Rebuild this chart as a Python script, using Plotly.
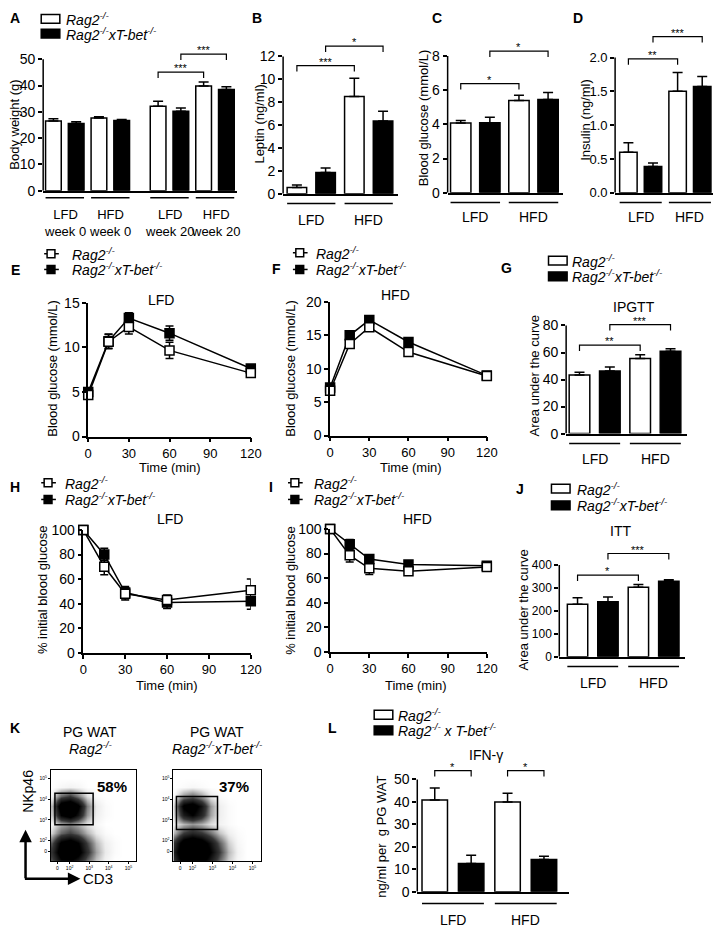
import plotly.graph_objects as go

W, H = 726, 937
FONT = "Liberation Sans, Arial, sans-serif"
LW = 1.5

RAG = "<i>Rag2<sup>-/-</sup></i>"
TBET = "<i>Rag2<sup>-/-</sup>xT-bet<sup>-/-</sup></i>"
TBET_L = "<i>Rag2<sup>-/-</sup> x T-bet<sup>-/-</sup></i>"

# ---------------- data ----------------
# A: body weight (g)
a_labels = ["LFD<br>week 0", "HFD<br>week 0", "LFD<br>week 20", "HFD<br>week 20"]
a_rag2 = [26.5, 27.7, 32.1, 39.8]
a_rag2_err = [0.9, 0.4, 1.9, 1.5]
a_tbet = [25.6, 26.7, 30.2, 38.5]
a_tbet_err = [0.6, 0.4, 1.3, 1.0]
a_sig = [(4, 6, 45.1, "***"), (5, 7, 51.9, "***")]

# B: leptin (ng/ml)
diet_labels = ["LFD", "HFD"]
b_rag2 = [0.55, 8.5]
b_rag2_err = [0.22, 1.6]
b_tbet = [1.85, 6.35]
b_tbet_err = [0.4, 0.85]
b_sig = [(0, 2, 11.2, "***"), (1, 3, 12.9, "*")]

# C: fasting blood glucose (mmol/L)
c_rag2 = [4.08, 5.4]
c_rag2_err = [0.15, 0.3]
c_tbet = [4.1, 5.46]
c_tbet_err = [0.32, 0.4]
c_sig = [(0, 2, 6.38, "*"), (1, 3, 8.28, "*")]

# D: insulin (ng/ml)
d_rag2 = [0.6, 1.5]
d_rag2_err = [0.14, 0.28]
d_tbet = [0.39, 1.57]
d_tbet_err = [0.05, 0.15]
d_sig = [(0, 2, 1.98, "**"), (1, 3, 2.31, "***")]

# E/F: IPGTT time courses (mmol/L)
time_min = [0, 15, 30, 60, 120]
e_rag2 = [4.65, 10.65, 12.3, 9.67, 7.12]
e_rag2_err = [0.3, 0.8, 0.8, 0.9, 0.4]
e_tbet = [5.0, 10.7, 13.3, 11.6, 7.63]
e_tbet_err = [0.3, 0.8, 0.6, 0.8, 0.4]
f_rag2 = [6.7, 13.7, 16.2, 12.5, 8.9]
f_rag2_err = [0.5, 0.6, 0.5, 0.5, 0.4]
f_tbet = [7.2, 15.0, 17.3, 14.0, 9.0]
f_tbet_err = [0.4, 0.5, 0.5, 0.5, 0.4]

# G: IPGTT area under the curve
g_rag2 = [43.4, 55.5]
g_rag2_err = [2.0, 2.8]
g_tbet = [46.3, 61.0]
g_tbet_err = [3.0, 1.8]
g_sig = [(0, 2, 65.5, "**"), (1, 3, 80.7, "***")]

# H/I: ITT time courses (% initial)
h_rag2 = [100, 70, 48, 43, 51]
h_rag2_err = [0, 6.5, 5, 4, 9]
h_tbet = [100, 80, 49, 41, 42]
h_tbet_err = [0, 5, 5, 5, 6.5]
i_rag2 = [100, 78.5, 68, 65.5, 69]
i_rag2_err = [0, 5.5, 5, 3, 3]
i_tbet = [100, 87.5, 75.5, 71, 70]
i_tbet_err = [0, 4, 3, 3, 3]

# J: ITT area under the curve
j_rag2 = [229, 303]
j_rag2_err = [28, 12]
j_tbet = [240, 329]
j_tbet_err = [20, 7]
j_sig = [(0, 2, 356, "*"), (1, 3, 450, "***")]

# K: flow cytometry density (rows = NKp46 bins bottom->top, cols = CD3 bins)
flow_x = [1.1, 1.55, 2.0, 2.45, 2.9, 3.35, 3.8, 4.25, 4.7, 5.15]
flow_y = [1.0, 1.45, 1.9, 2.35, 2.8, 3.25, 3.7, 4.15, 4.6, 5.05]
flow_tick_text = ["0", "10<sup>2</sup>", "10<sup>3</sup>", "10<sup>4</sup>", "10<sup>5</sup>"]
k_rag2 = [
    [0.35, 0.65, 0.7, 0.55, 0.3, 0.12, 0.03, 0, 0, 0],
    [0.45, 0.85, 0.95, 0.8, 0.45, 0.18, 0.05, 0.01, 0, 0],
    [0.35, 0.75, 0.85, 0.7, 0.38, 0.14, 0.04, 0.01, 0, 0],
    [0.1, 0.3, 0.38, 0.3, 0.15, 0.05, 0.01, 0, 0, 0],
    [0.03, 0.15, 0.22, 0.15, 0.06, 0.02, 0, 0, 0, 0],
    [0.12, 0.7, 0.85, 0.6, 0.2, 0.04, 0.01, 0, 0, 0],
    [0.15, 0.9, 1.0, 0.75, 0.25, 0.05, 0.01, 0, 0, 0],
    [0.03, 0.3, 0.4, 0.25, 0.07, 0.01, 0, 0, 0, 0],
    [0, 0.02, 0.03, 0.02, 0, 0, 0, 0, 0, 0],
    [0, 0, 0, 0, 0, 0, 0, 0, 0, 0],
]
k_tbet = [
    [0.45, 0.8, 0.9, 0.8, 0.55, 0.3, 0.1, 0.02, 0, 0],
    [0.55, 0.95, 1.0, 0.95, 0.7, 0.4, 0.14, 0.03, 0, 0],
    [0.45, 0.85, 0.95, 0.85, 0.6, 0.32, 0.1, 0.02, 0, 0],
    [0.15, 0.4, 0.5, 0.42, 0.28, 0.12, 0.04, 0.01, 0, 0],
    [0.04, 0.14, 0.2, 0.15, 0.07, 0.03, 0.01, 0, 0, 0],
    [0.1, 0.55, 0.7, 0.5, 0.18, 0.04, 0.01, 0, 0, 0],
    [0.12, 0.75, 0.85, 0.6, 0.2, 0.04, 0.01, 0, 0, 0],
    [0.02, 0.2, 0.28, 0.18, 0.05, 0.01, 0, 0, 0, 0],
    [0, 0.01, 0.02, 0.01, 0, 0, 0, 0, 0, 0],
    [0, 0, 0, 0, 0, 0, 0, 0, 0, 0],
]
k_pct = ["58%", "37%"]

# L: IFN-gamma (ng/ml per g PG WAT)
l_rag2 = [40.9, 39.9]
l_rag2_err = [5.3, 3.9]
l_tbet = [12.6, 14.3]
l_tbet_err = [3.6, 1.5]
l_sig = [(0, 1, 53.9, "*"), (2, 3, 53.9, "*")]


# ---------------- helpers ----------------
def px(x):
    return x / W


def py(y):
    return 1 - y / H


fig = go.Figure()
layout = {}
shapes = []
annots = []

AX = dict(showgrid=False, zeroline=False, linecolor="black", linewidth=LW,
          tickcolor="black", tickwidth=LW, ticklen=4, ticks="outside",
          tickfont=dict(size=14, color="black", family=FONT))


def text(x, y, s, size=14, xa="center", ya="middle", angle=0):
    annots.append(dict(x=px(x), y=py(y), xref="paper", yref="paper", text=s,
                       showarrow=False, xanchor=xa, yanchor=ya, textangle=angle,
                       font=dict(size=size, color="black", family=FONT)))


def add_axes(n, xpix, ypix, xr, yr, xkw=None, ykw=None):
    s = "" if n == 1 else str(n)
    xa = dict(AX, domain=[px(xpix[0]), px(xpix[1])], range=xr, anchor="y" + s)
    ya = dict(AX, domain=[py(ypix[1]), py(ypix[0])], range=yr, anchor="x" + s)
    xa.update(xkw or {})
    ya.update(ykw or {})
    layout["xaxis" + s] = xa
    layout["yaxis" + s] = ya
    return "x" + s, "y" + s


def bar_panel(n, xpix, ypix, xr, yr, yticks, labels, rag, rag_err, tbet, tbet_err,
              sig, line_y, label_y, width=0.69, gap_after=None, gap=0.6, tickformat=None,
              label_size=14, tick_size=14):
    ykw = dict(showline=False, tickvals=yticks,
               tickfont=dict(size=tick_size, color="black", family=FONT))
    if tickformat:
        ykw["tickformat"] = tickformat
    xn, yn = add_axes(n, xpix, ypix, xr, yr,
                      xkw=dict(showline=True, ticks="", showticklabels=False), ykw=ykw)
    pos = []
    for g in range(len(labels)):
        base = 2 * g + (gap if gap_after is not None and g >= gap_after else 0)
        pos += [base, base + 1]
    for vals, err, fill in ((rag, rag_err, "white"), (tbet, tbet_err, "black")):
        xs = pos[0::2] if fill == "white" else pos[1::2]
        fig.add_trace(go.Bar(
            x=xs, y=vals, width=width, xaxis=xn, yaxis=yn, showlegend=False,
            marker=dict(color=fill, line=dict(color="black", width=LW)),
            error_y=dict(type="data", array=err, arrayminus=[0] * len(err), symmetric=False,
                         color="black", thickness=LW, width=5)))
    # y axis line only up to the last tick (Prism style)
    shapes.append(dict(type="line", xref=xn + " domain", yref=yn, x0=0, x1=0, y0=0,
                       y1=yticks[-1], line=dict(color="black", width=LW)))
    scale = (ypix[1] - ypix[0]) / (yr[1] - yr[0])
    tip = 6 / scale
    for i, j, y, lab in sig:
        x0, x1 = pos[i], pos[j]
        shapes.append(dict(type="path", xref=xn, yref=yn,
                           path=f"M {x0},{y - tip} L {x0},{y} L {x1},{y} L {x1},{y - tip}",
                           line=dict(color="black", width=1.2)))
        annots.append(dict(x=(x0 + x1) / 2, y=y, xref=xn, yref=yn, text=lab, showarrow=False,
                           xanchor="center", yanchor="bottom", yshift=-4,
                           font=dict(size=11, color="black", family=FONT)))
    for g, lab in enumerate(labels):
        a, b = pos[2 * g] - width / 2, pos[2 * g + 1] + width / 2
        shapes.append(dict(type="line", xref=xn, yref="paper", x0=a, x1=b,
                           y0=py(line_y), y1=py(line_y), line=dict(color="black", width=LW)))
        annots.append(dict(x=(pos[2 * g] + pos[2 * g + 1]) / 2, y=py(label_y), xref=xn,
                           yref="paper", text=lab, showarrow=False, xanchor="center",
                           yanchor="middle",
                           font=dict(size=label_size, color="black", family=FONT)))


def line_panel(n, xpix, ypix, yr, yticks, rag, rag_err, tbet, tbet_err):
    xn, yn = add_axes(n, xpix, ypix, [0, 120], yr,
                      xkw=dict(showline=True, tickvals=[0, 30, 60, 90, 120],
                               tickfont=dict(size=13, color="black", family=FONT)),
                      ykw=dict(showline=True, tickvals=yticks))
    for vals, err, fill in ((tbet, tbet_err, "black"), (rag, rag_err, "white")):
        fig.add_trace(go.Scatter(
            x=time_min, y=vals, mode="lines+markers", xaxis=xn, yaxis=yn, showlegend=False,
            cliponaxis=False, line=dict(color="black", width=LW),
            marker=dict(symbol="square", size=9, color=fill, line=dict(color="black", width=LW)),
            error_y=dict(type="data", array=err, color="black", thickness=LW, width=4)))


def bar_legend(x, y1, y2, tx, second=TBET):
    for y, fill in ((y1, "white"), (y2, "black")):
        shapes.append(dict(type="rect", xref="paper", yref="paper", x0=px(x), x1=px(x + 19),
                           y0=py(y + 4.5), y1=py(y - 4.5), fillcolor=fill,
                           line=dict(color="black", width=LW)))
    text(tx, y1, RAG, xa="left")
    text(tx, y2, second, xa="left")


def line_legend(cx, y1, y2, tx):
    for y, fill in ((y1, "white"), (y2, "black")):
        shapes.append(dict(type="line", xref="paper", yref="paper", x0=px(cx - 7), x1=px(cx + 8),
                           y0=py(y), y1=py(y), line=dict(color="black", width=LW)))
        shapes.append(dict(type="rect", xref="paper", yref="paper", x0=px(cx - 4), x1=px(cx + 4),
                           y0=py(y + 4), y1=py(y - 4), fillcolor=fill,
                           line=dict(color="black", width=LW)))
    text(tx, y1, RAG, xa="left")
    text(tx, y2, TBET, xa="left")


GRAY = [[0, "rgb(255,255,255)"], [0.05, "rgb(235,235,235)"], [0.2, "rgb(150,150,150)"],
        [0.4, "rgb(55,55,55)"], [0.7, "rgb(0,0,0)"], [1, "rgb(0,0,0)"]]


def flow_panel(n, xpix, dens, gate):
    tk = dict(showline=True, mirror=True, linewidth=1, ticklen=2, tickwidth=0.8,
              tickvals=[1.38, 2, 3, 4, 5], ticktext=flow_tick_text,
              tickfont=dict(size=5, color="black", family=FONT))
    ytk = dict(tk, tickvals=[1.48, 2, 3, 4, 5])
    xn, yn = add_axes(n, xpix, (775, 868), [1.05, 5.4], [1.0, 5.43], xkw=tk, ykw=ytk)
    fig.add_trace(go.Heatmap(x=flow_x, y=flow_y, z=dens, colorscale=GRAY, zmin=0, zmax=1,
                             zsmooth="best", showscale=False, xaxis=xn, yaxis=yn,
                             hoverinfo="skip"))
    shapes.append(dict(type="rect", xref=xn, yref=yn, x0=gate[0], x1=gate[1], y0=gate[2],
                       y1=gate[3], line=dict(color="black", width=LW)))


# ---------------- panels ----------------
bar_panel(1, (40, 238), (36, 186), [-0.45, 8.07], [0, 56], [0, 10, 20, 30, 40, 50],
          a_labels, a_rag2, a_rag2_err, a_tbet, a_tbet_err, a_sig, 193, 218.5, gap_after=2,
          label_size=13)
bar_panel(2, (285, 402), (23.6, 189), [-0.48, 3.51], [0, 14.2], [0, 2, 4, 6, 8, 10, 12],
          diet_labels, b_rag2, b_rag2_err, b_tbet, b_tbet_err, b_sig, 199, 216, width=0.68)
bar_panel(3, (453, 571), (31.4, 188), [-0.45, 3.52], [0, 9], [0, 2, 4, 6, 8],
          diet_labels, c_rag2, c_rag2_err, c_tbet, c_tbet_err, c_sig, 198, 213, width=0.7)
bar_panel(4, (624, 724), (19.4, 188), [-0.54, 3.44], [0, 2.45], [0, 0.5, 1.0, 1.5, 2.0],
          diet_labels, d_rag2, d_rag2_err, d_tbet, d_tbet_err, d_sig, 198, 213, width=0.71,
          tickformat=".1f", tick_size=13)
line_panel(5, (86, 252), (300, 436), [0, 15], [0, 5, 10, 15], e_rag2, e_rag2_err, e_tbet, e_tbet_err)
line_panel(6, (333, 493), (299, 435), [0, 20], [0, 5, 10, 15, 20], f_rag2, f_rag2_err, f_tbet, f_tbet_err)
bar_panel(7, (574, 697), (312, 433), [-0.44, 3.53], [0, 88], [0, 20, 40, 60, 80],
          diet_labels, g_rag2, g_rag2_err, g_tbet, g_tbet_err, g_sig, 443, 459, width=0.68)
line_panel(8, (81, 252), (531, 656), [0, 100], [0, 20, 40, 60, 80, 100], h_rag2, h_rag2_err, h_tbet, h_tbet_err)
line_panel(9, (333, 493), (530, 655), [0, 100], [0, 20, 40, 60, 80, 100], i_rag2, i_rag2_err, i_tbet, i_tbet_err)
bar_panel(10, (567, 695), (548, 660), [-0.6, 3.52], [0, 480], [0, 100, 200, 300, 400],
          diet_labels, j_rag2, j_rag2_err, j_tbet, j_tbet_err, j_sig, 670, 687, width=0.67,
          tick_size=12)
flow_panel(11, (48, 135), k_rag2, (1.25, 3.2, 2.76, 4.29))
flow_panel(12, (173, 262), k_tbet, (1.2, 3.25, 2.53, 4.14))
bar_panel(13, (422, 577), (766.6, 899), [-0.48, 3.69], [0, 58], [0, 10, 20, 30, 40, 50],
          diet_labels, l_rag2, l_rag2_err, l_tbet, l_tbet_err, l_sig, 911, 928, width=0.7)

# legends
bar_legend(38, 11, 26, 61)
line_legend(48, 250, 266, 67)
line_legend(302, 249, 266, 317)
bar_legend(556, 257, 273, 578)
line_legend(45, 483, 500, 60)
line_legend(297, 483, 500, 315)
bar_legend(559, 489, 506, 583)
bar_legend(378, 719, 735, 400, second=TBET_L)

# panel letters
for s, x, y in [("A", 11, 10), ("B", 258, 10), ("C", 442, 10), ("D", 586, 10),
                ("E", 12, 267), ("F", 278, 266), ("G", 513, 265), ("H", 11, 487),
                ("I", 273, 487), ("J", 527, 489), ("K", 11, 732), ("L", 335, 732)]:
    text(x, y, "<b>" + s + "</b>", size=14)

# y axis titles
for s, x, y in [("Body weight (g)", 11, 119), ("Leptin (ng/ml)", 261, 118),
                ("Blood glucose (mmol/L)", 428, 112), ("Insulin (ng/ml)", 593, 114),
                ("Blood glucose (mmol/L)", 50, 366), ("Blood glucose (mmol/L)", 293, 366),
                ("Area under the curve", 542, 374), ("% initial blood glucose", 40, 592),
                ("% initial blood glucose", 293, 592), ("Area under the curve", 530, 613),
                ("ng/ml per  g PG WAT", 386, 843)]:
    text(x, y, s, size=13, angle=-90)

# x axis titles and panel titles
for x, y in [(169, 467), (416, 467), (166, 689), (421, 689)]:
    text(x, y, "Time (min)", size=13)
for s, x, y in [("LFD", 160, 297), ("HFD", 400, 292), ("IPGTT", 643, 304), ("LFD", 170, 520),
                ("HFD", 422, 520), ("ITT", 630, 532), ("IFN-γ", 492, 760)]:
    text(x, y, s, size=14)

# K annotations
text(88, 737, "PG WAT", size=14)
text(88, 753, RAG, size=14)
text(218, 737, "PG WAT", size=14)
text(218, 753, TBET, size=14)
text(110, 792, "<b>" + k_pct[0] + "</b>", size=15)
text(235, 792, "<b>" + k_pct[1] + "</b>", size=15)
text(25, 797, "NKp46", size=14, angle=-90)
text(79, 886, "CD3", size=15, xa="left")
annots.append(dict(x=px(22), y=py(836), xref="paper", yref="paper", text="", showarrow=True,
                   ax=0, ay=50, arrowhead=2, arrowsize=1, arrowwidth=2.5, arrowcolor="black"))
annots.append(dict(x=px(78), y=py(886), xref="paper", yref="paper", text="", showarrow=True,
                   ax=-57, ay=0, arrowhead=2, arrowsize=1, arrowwidth=2.5, arrowcolor="black"))

fig.update_layout(
    width=W, height=H, autosize=False,
    margin=dict(l=0, r=0, t=0, b=0, pad=0),
    paper_bgcolor="white", plot_bgcolor="white",
    font=dict(family=FONT, color="black", size=14),
    barmode="overlay", showlegend=False,
    shapes=shapes, annotations=annots,
    **layout,
)

fig.write_html("out.html", config={"displayModeBar": False},
               post_script="document.body.style.margin='0';")
